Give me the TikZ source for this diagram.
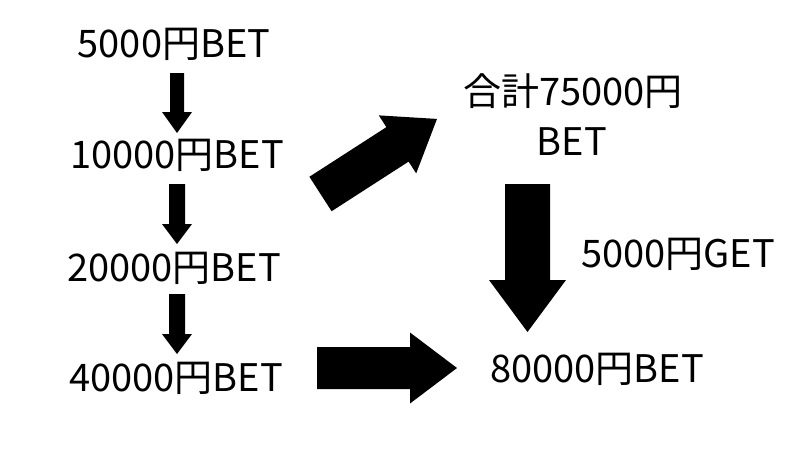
\documentclass[tikz,border=0pt]{standalone}
\usepackage{fontspec}
\setmainfont{Noto Sans CJK JP}
\newcommand{\blkarrow}[7]{%
  \fill[arrowfill, shift={(#1,#2)}, rotate=-#3]
    (0,{-#5/2}) -- ({#4-#7},{-#5/2}) -- ({#4-#7},{-#6/2}) -- (#4,0)
    -- ({#4-#7},{#6/2}) -- ({#4-#7},{#5/2}) -- (0,{#5/2}) -- cycle;}
\begin{document}
\begin{tikzpicture}[x=1pt,y=-1pt,
  lbl/.style={anchor=base, inner sep=0pt, font=\fontsize{38}{40}\selectfont},
  arrowfill/.style={fill=black}]
\useasboundingbox (0,0) rectangle (800,450);
\fill[white] (0,0) rectangle (800,450);
\node[lbl] (t1) at (174,57) {5000円BET};
\node[lbl] (t2) at (177,168) {10000円BET};
\node[lbl] (t3) at (174,281) {20000円BET};
\node[lbl] (t4) at (176,391) {40000円BET};
\node[lbl] (t5) at (573,105) {合計75000円};
\node[lbl] (t6) at (572,155) {BET};
\node[lbl] (t7) at (678,267) {5000円GET};
\node[lbl] (t8) at (597,382) {80000円BET};
% arrows
\blkarrow{177}{73}{90}{60}{14}{30}{21}
\blkarrow{177}{184}{90}{60}{16}{30}{20}
\blkarrow{177}{294}{90}{60}{16}{30}{20}
\blkarrow{320.5}{194}{-32.8}{138.6}{41}{69}{47}
\blkarrow{527.5}{184}{90}{148}{45}{77}{52}
\blkarrow{317}{368}{0}{140}{42}{71}{47}
\end{tikzpicture}
\end{document}
